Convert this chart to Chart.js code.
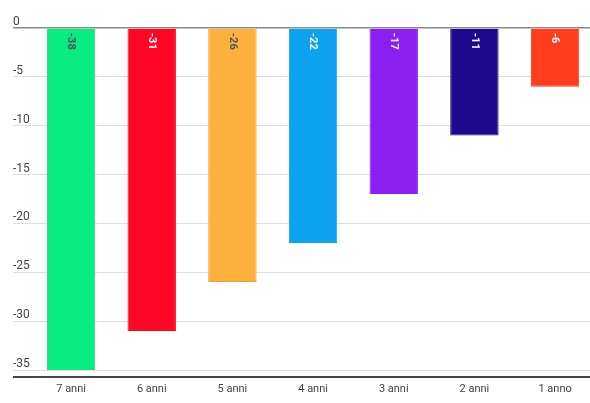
<!DOCTYPE html>
<html>
<head>
<meta charset="utf-8">
<script src="https://cdn.jsdelivr.net/npm/chart.js@4/dist/chart.umd.min.js"></script>
<style>
  html, body { margin: 0; padding: 0; background: #fff; }
  #wrap { width: 590px; height: 403px; position: relative; }
</style>
</head>
<body>
<div id="wrap"><canvas id="Anni"></canvas></div>
<script>
var categories = ['7 anni', '6 anni', '5 anni', '4 anni', '3 anni', '2 anni', '1 anno'];
var values = [-38, -31, -26, -22, -17, -11, -6];
var barColors = ['#08ec82', '#ff0526', '#fbb13c', '#0ba2ef', '#8b1ef0', '#1f0a8e', '#ff3c1c'];
var borderColors = ['#2fc97a', '#ff0526', '#f0a030', '#0ba2ef', '#8b1ef0', '#1f0a8e', '#ff3c1c'];
var labelColors = ['#555555', '#ffffff', '#555555', '#ffffff', '#ffffff', '#ffffff', '#ffffff'];
var yTicks = [0, -5, -10, -15, -20, -25, -30, -35];

// value labels written sideways at the top of each bar
var barLabels = {
    id: 'barLabels',
    afterDatasetsDraw: function (chart) {
        var ctx = chart.ctx;
        var meta = chart.getDatasetMeta(0);
        ctx.save();
        ctx.font = 'bold 11px Roboto';
        ctx.textAlign = 'left';
        ctx.textBaseline = 'middle';
        meta.data.forEach(function (bar, i) {
            ctx.save();
            ctx.translate(bar.x, bar.base + 4);
            ctx.rotate(Math.PI / 2);
            ctx.fillStyle = labelColors[i];
            ctx.fillText(String(values[i]), 0, 0);
            ctx.restore();
        });
        ctx.restore();
    }
};

// dark horizontal axis line, a bit under the last gridline
var bottomLine = {
    id: 'bottomLine',
    afterDraw: function (chart) {
        var a = chart.chartArea;
        var ctx = chart.ctx;
        ctx.save();
        ctx.strokeStyle = '#444';
        ctx.lineWidth = 2;
        ctx.beginPath();
        ctx.moveTo(a.left, a.bottom + 7);
        ctx.lineTo(a.right, a.bottom + 7);
        ctx.stroke();
        ctx.restore();
    }
};

new Chart(document.getElementById('Anni'), {
    type: 'bar',
    data: {
        datasets: [
            {
                data: values.map(function (v, i) { return { x: i, y: v }; }),
                backgroundColor: barColors,
                borderColor: borderColors,
                borderWidth: 1,
                borderSkipped: 'start',
                categoryPercentage: 1,
                barPercentage: 0.6
            }
        ]
    },
    options: {
        responsive: true,
        maintainAspectRatio: false,
        animation: false,
        layout: { padding: { left: 13, right: 0, top: 28, bottom: 0 } },
        plugins: {
            legend: { display: false },
            tooltip: { enabled: false }
        },
        scales: {
            x: {
                type: 'linear',
                offset: false,
                min: -0.72,
                max: 6.433,
                afterBuildTicks: function (scale) {
                    scale.ticks = categories.map(function (c, i) { return { value: i }; });
                },
                afterFit: function (scale) { scale.height = 33; },
                grid: { display: false, offset: false, drawTicks: false },
                border: { display: false },
                ticks: {
                    padding: 13,
                    color: '#444',
                    font: { family: 'Roboto', size: 11 },
                    callback: function (v) { return categories[v]; }
                }
            },
            y: {
                min: -35,
                max: 0,
                afterBuildTicks: function (scale) {
                    scale.ticks = yTicks.map(function (v) { return { value: v }; });
                },
                border: { display: false },
                grid: {
                    drawTicks: false,
                    color: function (c) { return c.tick && c.tick.value === 0 ? '#8a8a8a' : '#dedede'; },
                    lineWidth: function (c) { return c.tick && c.tick.value === 0 ? 1.5 : 1; }
                },
                ticks: {
                    mirror: true,
                    padding: 0,
                    labelOffset: -6,
                    color: '#444',
                    font: { family: 'Roboto', size: 12 }
                }
            }
        }
    },
    plugins: [barLabels, bottomLine]
});
</script>
</body>
</html>
